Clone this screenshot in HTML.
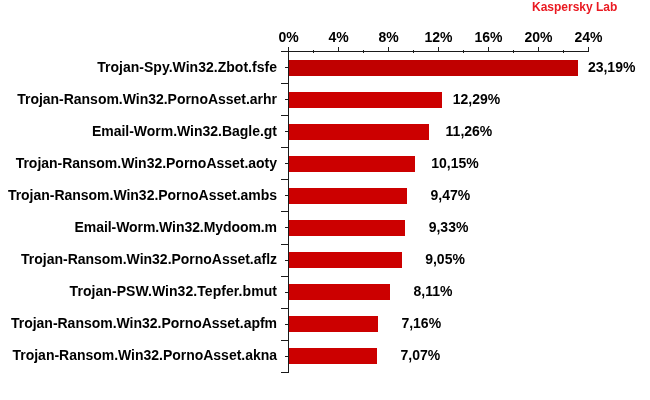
<!DOCTYPE html>
<html><head><meta charset="utf-8"><title>Chart</title>
<style>
html,body{margin:0;padding:0;background:#fff;}
body{width:650px;height:400px;position:relative;overflow:hidden;filter:blur(0.3px);font-family:"Liberation Sans",Arial,sans-serif;font-weight:bold;font-size:14px;color:#000;}
.l{position:absolute;white-space:nowrap;line-height:16px;height:16px;}
.n{left:0;width:277px;text-align:right;letter-spacing:-0.02px;}
.b{position:absolute;background:#cc0000;height:16px;left:289px;}
.k{position:absolute;background:#1a1a1a;}
.a{width:40px;text-align:center;top:29px;}
</style></head><body>
<div class="l" style="left:532px;top:0px;font-size:12px;color:#ea1a22;line-height:14px;height:14px;">Kaspersky Lab</div>
<div class="l a" style="left:268.5px;">0%</div>
<div class="l a" style="left:318.5px;">4%</div>
<div class="l a" style="left:368.5px;">8%</div>
<div class="l a" style="left:418.5px;">12%</div>
<div class="l a" style="left:468.5px;">16%</div>
<div class="l a" style="left:518.5px;">20%</div>
<div class="l a" style="left:568.5px;">24%</div>
<div class="k" style="left:281px;top:51px;width:308px;height:1.2px;"></div>
<div class="k" style="left:288px;top:47px;width:1.2px;height:326px;"></div>
<div class="k" style="left:313px;top:50px;width:1.1px;height:3px;"></div>
<div class="k" style="left:338px;top:47px;width:1.1px;height:5px;"></div>
<div class="k" style="left:363px;top:50px;width:1.1px;height:3px;"></div>
<div class="k" style="left:388px;top:47px;width:1.1px;height:5px;"></div>
<div class="k" style="left:413px;top:50px;width:1.1px;height:3px;"></div>
<div class="k" style="left:438px;top:47px;width:1.1px;height:5px;"></div>
<div class="k" style="left:463px;top:50px;width:1.1px;height:3px;"></div>
<div class="k" style="left:488px;top:47px;width:1.1px;height:5px;"></div>
<div class="k" style="left:513px;top:50px;width:1.1px;height:3px;"></div>
<div class="k" style="left:538px;top:47px;width:1.1px;height:5px;"></div>
<div class="k" style="left:563px;top:50px;width:1.1px;height:3px;"></div>
<div class="k" style="left:588px;top:47px;width:1.1px;height:5px;"></div>
<div class="l n" style="top:59px;letter-spacing:0.02px;">Trojan-Spy.Win32.Zbot.fsfe</div>
<div class="b" style="top:59.63px;width:289.3px;background:#c00000;"></div>
<div class="l" style="left:587.9px;top:59px;">23,19%</div>
<div class="k" style="left:285px;top:67.1px;width:4px;height:1.1px;"></div>
<div class="k" style="left:281px;top:83.2px;width:8px;height:1.1px;"></div>
<div class="l n" style="top:91px;letter-spacing:-0.02px;">Trojan-Ransom.Win32.PornoAsset.arhr</div>
<div class="b" style="top:91.69px;width:153.0px;background:#cc0000;"></div>
<div class="l" style="left:452.7px;top:91px;">12,29%</div>
<div class="k" style="left:285px;top:99.2px;width:4px;height:1.1px;"></div>
<div class="k" style="left:281px;top:115.2px;width:8px;height:1.1px;"></div>
<div class="l n" style="top:123px;letter-spacing:-0.02px;">Email-Worm.Win32.Bagle.gt</div>
<div class="b" style="top:123.75px;width:140.2px;background:#cc0000;"></div>
<div class="l" style="left:445.6px;top:123px;">11,26%</div>
<div class="k" style="left:285px;top:131.3px;width:4px;height:1.1px;"></div>
<div class="k" style="left:281px;top:147.3px;width:8px;height:1.1px;"></div>
<div class="l n" style="top:155px;letter-spacing:-0.02px;">Trojan-Ransom.Win32.PornoAsset.aoty</div>
<div class="b" style="top:155.81px;width:126.3px;background:#cc0000;"></div>
<div class="l" style="left:431.3px;top:155px;">10,15%</div>
<div class="k" style="left:285px;top:163.3px;width:4px;height:1.1px;"></div>
<div class="k" style="left:281px;top:179.3px;width:8px;height:1.1px;"></div>
<div class="l n" style="top:187px;letter-spacing:-0.02px;">Trojan-Ransom.Win32.PornoAsset.ambs</div>
<div class="b" style="top:187.87px;width:117.8px;background:#cc0000;"></div>
<div class="l" style="left:430.5px;top:187px;">9,47%</div>
<div class="k" style="left:285px;top:195.4px;width:4px;height:1.1px;"></div>
<div class="k" style="left:281px;top:211.4px;width:8px;height:1.1px;"></div>
<div class="l n" style="top:219px;letter-spacing:-0.07px;">Email-Worm.Win32.Mydoom.m</div>
<div class="b" style="top:219.93px;width:116.0px;background:#cc0000;"></div>
<div class="l" style="left:428.7px;top:219px;">9,33%</div>
<div class="k" style="left:285px;top:227.4px;width:4px;height:1.1px;"></div>
<div class="k" style="left:281px;top:243.5px;width:8px;height:1.1px;"></div>
<div class="l n" style="top:251px;letter-spacing:-0.02px;">Trojan-Ransom.Win32.PornoAsset.aflz</div>
<div class="b" style="top:251.99px;width:112.5px;background:#cc0000;"></div>
<div class="l" style="left:425.2px;top:251px;">9,05%</div>
<div class="k" style="left:285px;top:259.5px;width:4px;height:1.1px;"></div>
<div class="k" style="left:281px;top:275.5px;width:8px;height:1.1px;"></div>
<div class="l n" style="top:283px;letter-spacing:0.06px;">Trojan-PSW.Win32.Tepfer.bmut</div>
<div class="b" style="top:284.05px;width:100.8px;background:#cc0000;"></div>
<div class="l" style="left:413.5px;top:283px;">8,11%</div>
<div class="k" style="left:285px;top:291.6px;width:4px;height:1.1px;"></div>
<div class="k" style="left:281px;top:307.6px;width:8px;height:1.1px;"></div>
<div class="l n" style="top:315px;letter-spacing:-0.02px;">Trojan-Ransom.Win32.PornoAsset.apfm</div>
<div class="b" style="top:316.11px;width:88.9px;background:#cc0000;"></div>
<div class="l" style="left:401.4px;top:315px;">7,16%</div>
<div class="k" style="left:285px;top:323.6px;width:4px;height:1.1px;"></div>
<div class="k" style="left:281px;top:339.6px;width:8px;height:1.1px;"></div>
<div class="l n" style="top:347px;letter-spacing:-0.02px;">Trojan-Ransom.Win32.PornoAsset.akna</div>
<div class="b" style="top:348.17px;width:87.8px;background:#cc0000;"></div>
<div class="l" style="left:400.5px;top:347px;">7,07%</div>
<div class="k" style="left:285px;top:355.7px;width:4px;height:1.1px;"></div>
<div class="k" style="left:281px;top:371.7px;width:8px;height:1.1px;"></div>
</body></html>
